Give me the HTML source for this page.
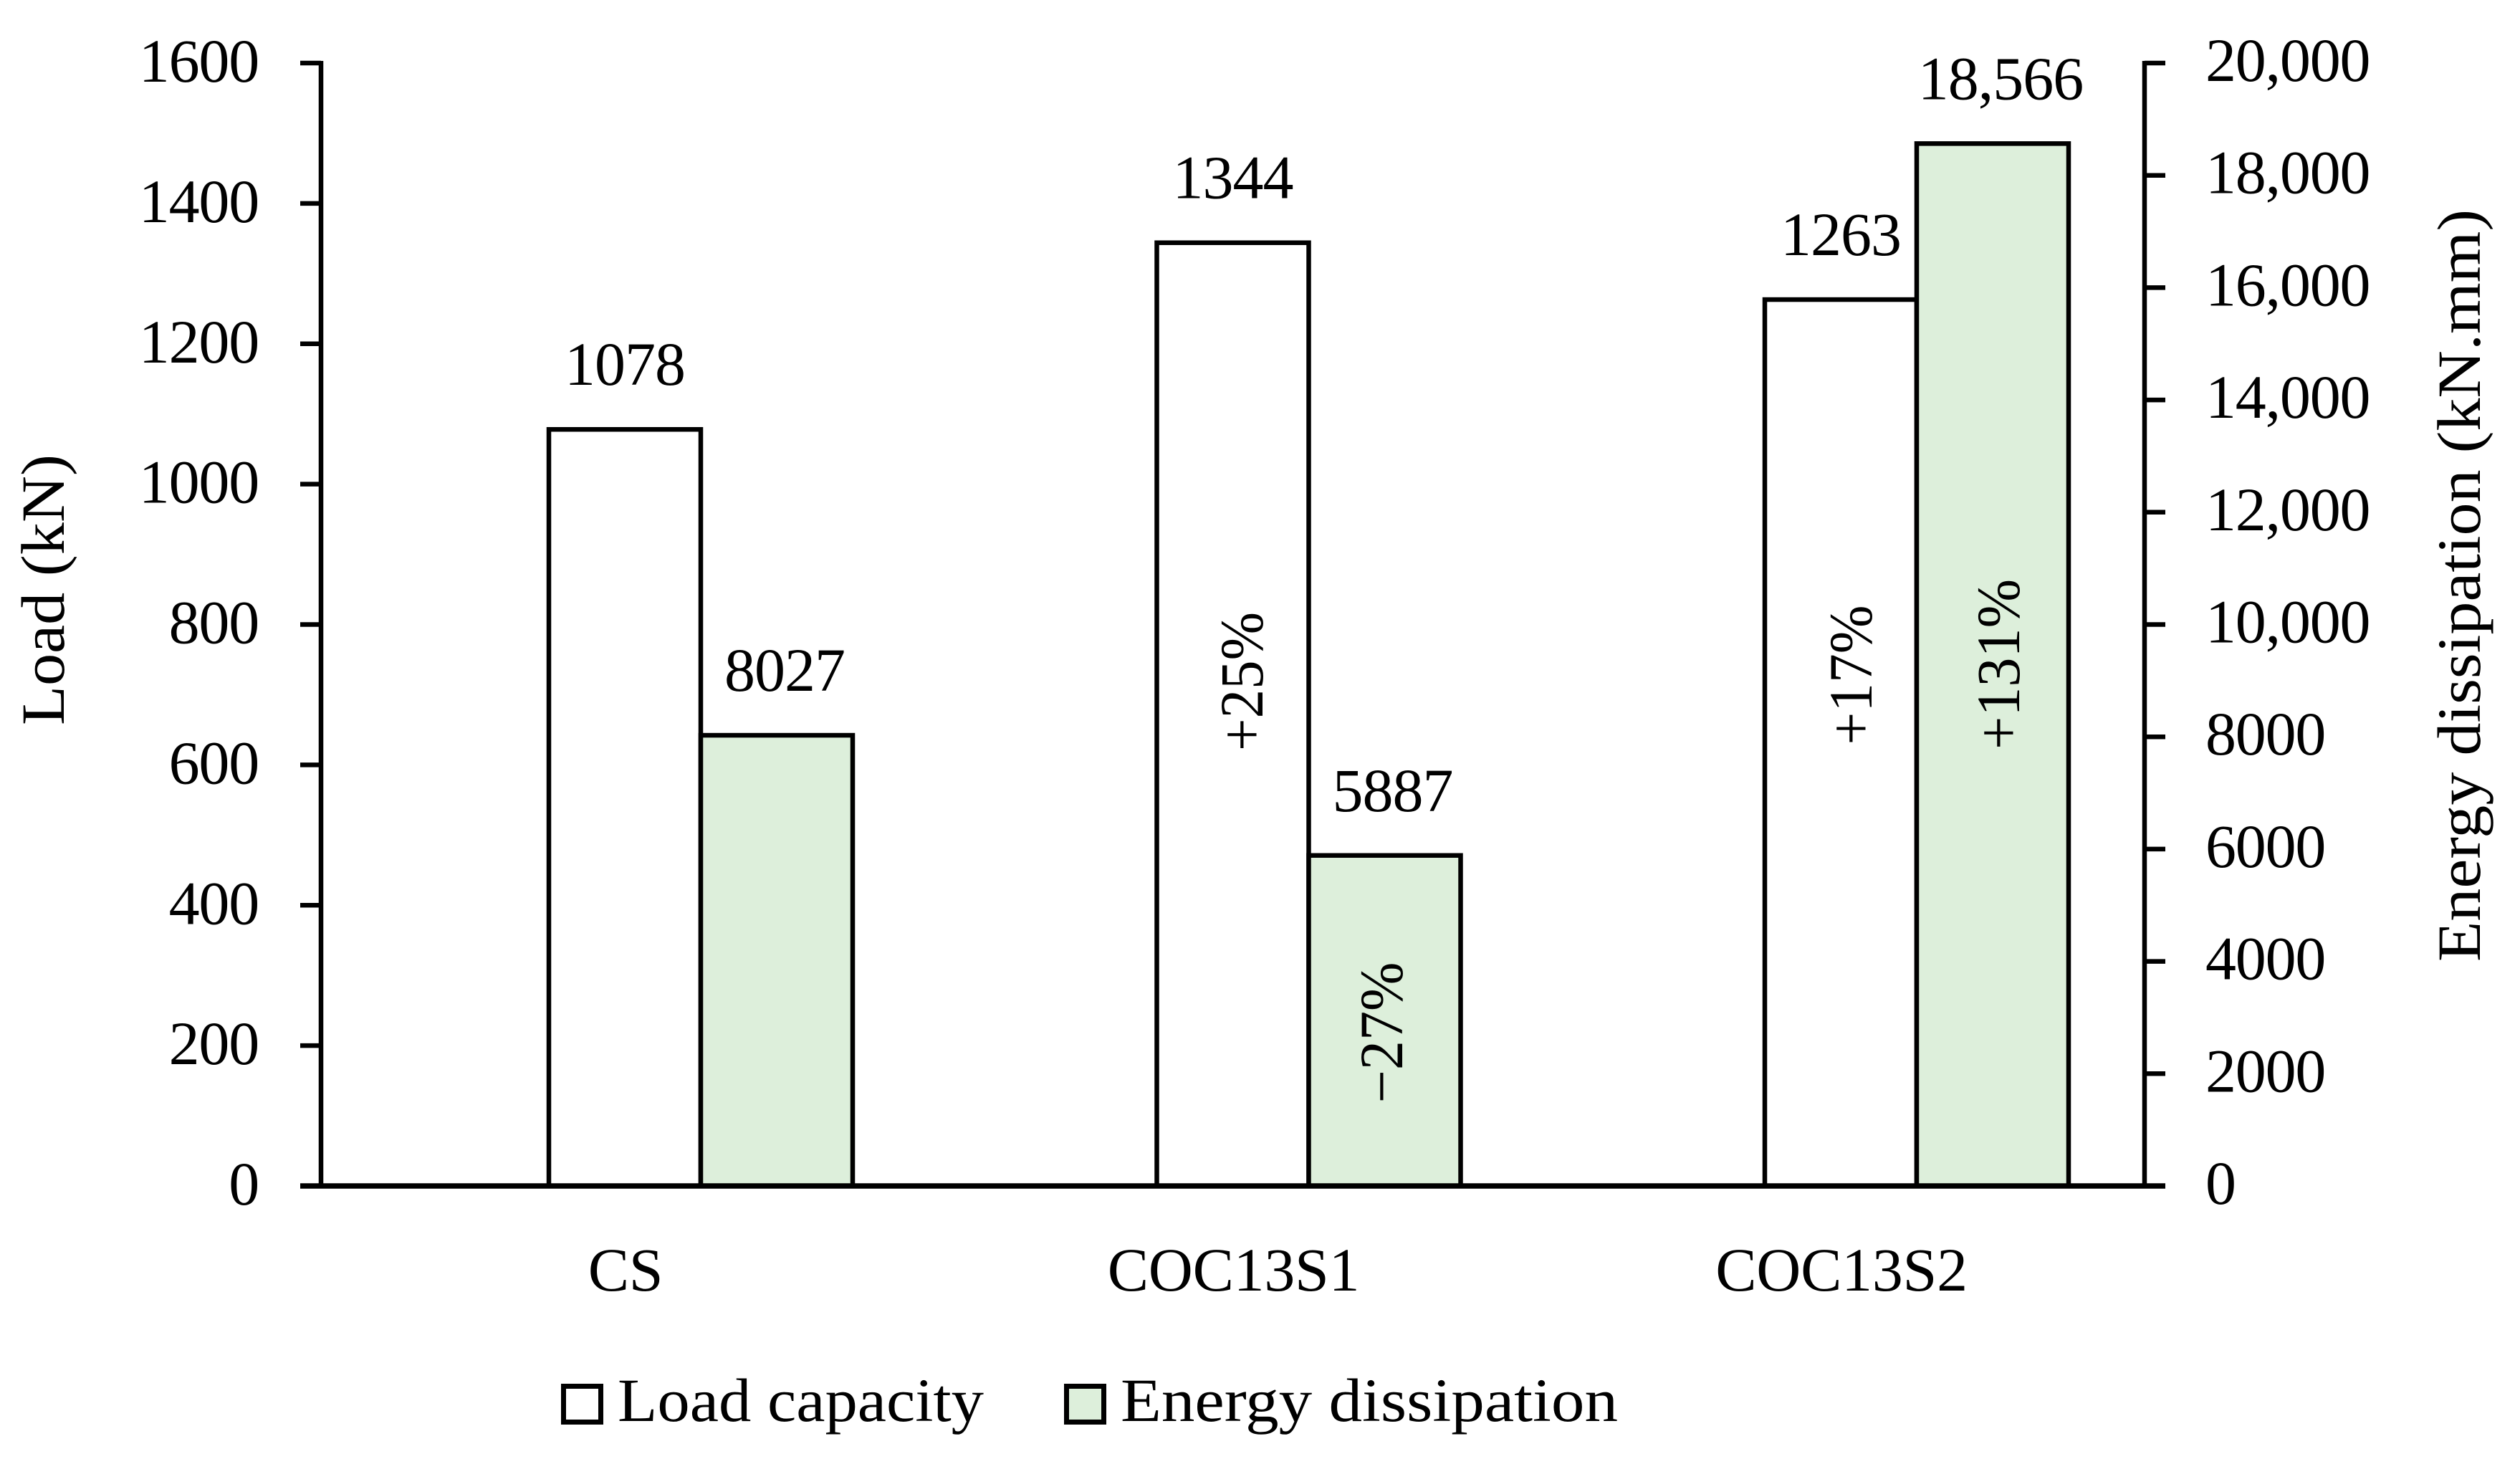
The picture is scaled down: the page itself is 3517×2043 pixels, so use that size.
<!DOCTYPE html>
<html lang="en">
<head>
<meta charset="utf-8">
<title>Load capacity and energy dissipation</title>
<style>
html,body{margin:0;padding:0;background:#fff;}
body{width:3517px;height:2043px;overflow:hidden;}
svg{display:block;}
text{font-family:"Liberation Serif",serif;font-size:86px;fill:#000;}
</style>
</head>
<body>
<svg id="chart" width="3517" height="2043" viewBox="0 0 3517 2043" xmlns="http://www.w3.org/2000/svg">
  <rect x="0" y="0" width="3517" height="2043" fill="#ffffff"/>
  <g id="bars"></g>
  <g id="axes"></g>
  <g id="labels"></g>

  <text transform="translate(89 823) rotate(-90)" text-anchor="middle" textLength="378" lengthAdjust="spacingAndGlyphs">Load (kN)</text>
  <text transform="translate(3461 817) rotate(-90)" text-anchor="middle" textLength="1050" lengthAdjust="spacingAndGlyphs">Energy dissipation (kN.mm)</text>

  <text transform="translate(1762 951) rotate(-90)" text-anchor="middle" textLength="194" lengthAdjust="spacingAndGlyphs">+25%</text>
  <text transform="translate(1957 1441) rotate(-90)" text-anchor="middle" textLength="197" lengthAdjust="spacingAndGlyphs">−27%</text>
  <text transform="translate(2612 942) rotate(-90)" text-anchor="middle" textLength="195" lengthAdjust="spacingAndGlyphs">+17%</text>
  <text transform="translate(2818 927) rotate(-90)" text-anchor="middle" textLength="238" lengthAdjust="spacingAndGlyphs">+131%</text>

  <g>
    <rect x="786.5" y="1934.5" width="52" height="50" fill="#ffffff" stroke="#000" stroke-width="7"/>
    <text x="862" y="1983" textLength="511" lengthAdjust="spacingAndGlyphs">Load capacity</text>
    <rect x="1488.5" y="1934.5" width="52" height="50" fill="#ddefdb" stroke="#000" stroke-width="7"/>
    <text x="1564" y="1983" textLength="694" lengthAdjust="spacingAndGlyphs">Energy dissipation</text>
  </g>
</svg>
<script>
const categories = ['CS', 'COC13S1', 'COC13S2'];
const loadValues = [1078, 1344, 1263];
const energyValues = [8027, 5887, 18566];
const loadValueLabels = ['1078', '1344', '1263'];
const energyValueLabels = ['8027', '5887', '18,566'];
const loadTicks = [0, 200, 400, 600, 800, 1000, 1200, 1400, 1600];
const energyTicks = [0, 2000, 4000, 6000, 8000, 10000, 12000, 14000, 16000, 18000, 20000];
const energyTickLabels = ['0', '2000', '4000', '6000', '8000', '10,000', '12,000', '14,000', '16,000', '18,000', '20,000'];

const NS = 'http://www.w3.org/2000/svg';
const plotTop = 88, plotBottom = 1655, leftX = 448, rightX = 2993;
const loadMax = 1600, energyMax = 20000;
const groupStart = 766, groupStep = 848.5, barWidth = 212;

function yLoad(v) { return plotBottom - (v / loadMax) * (plotBottom - plotTop); }
function yEnergy(v) { return plotBottom - (v / energyMax) * (plotBottom - plotTop); }
function xLoadBar(i) { return groupStart + groupStep * i; }
function xEnergyBar(i) { return xLoadBar(i) + barWidth; }

function make(tag, attrs, parent, content) {
  const el = document.createElementNS(NS, tag);
  for (const k in attrs) el.setAttribute(k, attrs[k]);
  if (content !== undefined) el.textContent = content;
  parent.appendChild(el);
  return el;
}

const barsG = document.getElementById('bars');
const axesG = document.getElementById('axes');
const labelsG = document.getElementById('labels');

categories.forEach(function (cat, i) {
  const loadTop = yLoad(loadValues[i]);
  const loadBar = make('rect', { x: xLoadBar(i), y: loadTop, width: barWidth, height: plotBottom - loadTop, fill: '#ffffff', stroke: '#000', 'stroke-width': 6.5 }, barsG);
  
  

  const energyTop = yEnergy(energyValues[i]);
  const energyBar = make('rect', { x: xEnergyBar(i), y: energyTop, width: barWidth, height: plotBottom - energyTop, fill: '#ddefdb', stroke: '#000', 'stroke-width': 6.5 }, barsG);
  
  

  const loadLabel = make('text', { x: xLoadBar(i) + barWidth / 2, y: loadTop - 62, 'text-anchor': 'middle', 'letter-spacing': '-1' }, labelsG, loadValueLabels[i]);
  
  

  const energyLabel = make('text', { x: xEnergyBar(i) + barWidth / 2 + 11, y: energyTop - 62, 'text-anchor': 'middle', 'letter-spacing': '-1' }, labelsG, energyValueLabels[i]);
  
  

  const catLabel = make('text', { x: xLoadBar(i) + barWidth / 2 + 1, y: 1801, 'text-anchor': 'middle', 'letter-spacing': '-0.3' }, labelsG, cat);
  
  
});

const leftAxis = make('line', { x1: leftX, x2: leftX, y1: plotTop - 3, y2: plotBottom, stroke: '#000', 'stroke-width': 6.5 }, axesG);



const rightAxis = make('line', { x1: rightX, x2: rightX, y1: plotTop - 3, y2: plotBottom, stroke: '#000', 'stroke-width': 6.5 }, axesG);



const xAxis = make('line', { x1: 419, x2: 3022, y1: plotBottom, y2: plotBottom, stroke: '#000', 'stroke-width': 7.5 }, axesG);



loadTicks.forEach(function (t) {
  const y = yLoad(t);
  const tick = make('line', { x1: 419, x2: leftX, y1: y, y2: y, stroke: '#000', 'stroke-width': 6.5 }, axesG);
  
  
  const label = make('text', { x: 361, y: y + 26, 'text-anchor': 'end', 'letter-spacing': '-1.2' }, labelsG, String(t));
  
  
});

energyTicks.forEach(function (t, i) {
  const y = yEnergy(t);
  const tick = make('line', { x1: rightX, x2: 3022, y1: y, y2: y, stroke: '#000', 'stroke-width': 6.5 }, axesG);
  
  
  const label = make('text', { x: 3078, y: y + 25, 'letter-spacing': '-1.2' }, labelsG, energyTickLabels[i]);
  
  
});
</script>
</body>
</html>
